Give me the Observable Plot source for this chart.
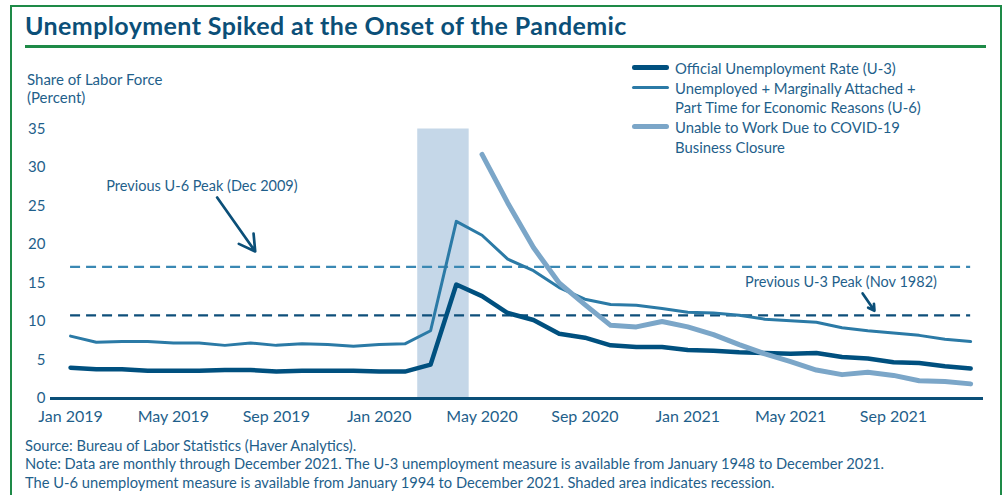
<!DOCTYPE html>
<html><head><meta charset="utf-8">
<script src="https://cdn.jsdelivr.net/npm/d3@7"></script>
<script src="https://cdn.jsdelivr.net/npm/@observablehq/plot@0.6"></script>
<style>
body{margin:0;background:#fff;font-family:Lato,sans-serif;}
#wrap{position:relative;width:1003px;height:495px;overflow:hidden;background:#fff;}
.abs{position:absolute;white-space:nowrap;}
.txt{color:#1f5f8b;}
</style></head><body>
<div id="wrap">
  <div class="abs" style="left:10px;top:5px;width:988px;height:530px;border:2px solid #1e8a47;"></div>
  <div class="abs" id="title" style="left:25px;top:13px;font-size:25px;line-height:25px;letter-spacing:0.4px;font-weight:700;color:#0b4f78;">Unemployment Spiked at the Onset of the Pandemic</div>
  <div class="abs" style="left:25px;top:45px;width:961px;height:3px;background:#1e8a47;"></div>
</div>
<script>
// ---- data ----
const months = d3.utcMonth.range(new Date(Date.UTC(2019, 0, 1)), new Date(Date.UTC(2022, 0, 1)));
const u3 = [4.0, 3.8, 3.8, 3.6, 3.6, 3.6, 3.7, 3.7, 3.5, 3.6, 3.6, 3.6,
            3.5, 3.5, 4.4, 14.8, 13.3, 11.1, 10.2, 8.4, 7.9, 6.9, 6.7, 6.7,
            6.3, 6.2, 6.0, 5.9, 5.8, 5.9, 5.4, 5.2, 4.7, 4.6, 4.2, 3.9];
const u6 = [8.1, 7.3, 7.4, 7.4, 7.2, 7.2, 6.9, 7.2, 6.9, 7.1, 7.0, 6.8,
            7.0, 7.1, 8.8, 23.0, 21.2, 18.1, 16.6, 14.4, 12.9, 12.2, 12.1, 11.7,
            11.2, 11.1, 10.8, 10.3, 10.1, 9.9, 9.2, 8.8, 8.5, 8.2, 7.7, 7.4];
const covidMonths = d3.utcMonth.range(new Date(Date.UTC(2020, 4, 1)), new Date(Date.UTC(2022, 0, 1)));
const covid = [31.7, 25.4, 19.6, 15.0, 12.2, 9.5, 9.3, 10.0,
               9.3, 8.3, 7.0, 5.8, 4.8, 3.7, 3.1, 3.4, 3.0, 2.3, 2.2, 1.9];
const tickMonths = ["Jan 2019", "May 2019", "Sep 2019", "Jan 2020", "May 2020", "Sep 2020", "Jan 2021", "May 2021", "Sep 2021"];
const yTicks = [0, 5, 10, 15, 20, 25, 30, 35];
const peakNames = ["Previous U-6 Peak (Dec 2009)", "Previous U-3 Peak (Nov 1982)"];
const peakValues = [17.1, 10.8];
const recessionStart = "2020-02";
const recessionEnd = "2020-04";
const seriesNames = [["Official Unemployment Rate (U-3)"],
                     ["Unemployed + Marginally Attached +", "Part Time for Economic Reasons (U-6)"],
                     ["Unable to Work Due to COVID-19", "Business Closure"]];

// ---- styles ----
const C3 = "#00507f", C6 = "#2b7aa6", CC = "#7ba6c8", TXT = "#1f5f8b", NAVY = "#0b4f78";

const fmt = d3.utcFormat("%Y-%m");
const idx = m => months.findIndex(d => fmt(d) === m);
const rows = months.map((d, i) => ({i, u3: u3[i], u6: u6[i]}));
const covRows = covidMonths.map((d, j) => ({i: idx(fmt(d)), v: covid[j]}));
const tickIdx = tickMonths.map(s => idx(fmt(d3.utcParse("%b %Y")(s))));
const rec = [{x1: idx(recessionStart) + 0.5, x2: idx(recessionEnd) + 0.5}];
const peaks = peakNames.map((n, k) => ({name: n, value: peakValues[k], color: k === 0 ? "#3a88b3" : "#0e4f7a"}));
// annotation placement (data space)
const notes = [
  {text: peakNames[0], tx: 5.11, ty: 27.5, ax1: 5.70, ay1: 26.1, ax2: 7.18, ay2: 19.1},
  {text: peakNames[1], tx: 29.96, ty: 15.05, ax1: 30.8, ay1: 13.65, ax2: 31.26, ay2: 11.4}
];

const chart = Plot.plot({
  width: 1003, height: 430,
  marginLeft: 50, marginRight: 20, marginTop: 128.5, marginBottom: 32,
  style: {fontFamily: "Lato, sans-serif", background: "transparent", overflow: "visible"},
  x: {type: "linear", domain: [-0.78, 35.5]},
  y: {domain: [0, 35]},
  marks: [
    Plot.rect(rec, {x1: "x1", x2: "x2", y1: 0, y2: 35, fill: "#c5d7e8"}),
    Plot.ruleY(peaks, {y: "value", x1: 0, x2: 35, stroke: "color", strokeWidth: 2.3, strokeDasharray: "10,6"}),
    Plot.ruleY([0], {stroke: NAVY, strokeWidth: 3}),
    Plot.axisY({ticks: yTicks, tickSize: 0, tickPadding: 5, fontSize: 15, color: TXT, label: null}),
    Plot.axisX({ticks: tickIdx, tickFormat: (d, k) => tickMonths[k], tickSize: 0, tickPadding: 12, fontSize: 16, color: TXT, label: null}),
    Plot.line(rows, {x: "i", y: "u6", stroke: C6, strokeWidth: 3, strokeLinejoin: "round", strokeLinecap: "round"}),
    Plot.line(rows, {x: "i", y: "u3", stroke: C3, strokeWidth: 4.5, strokeLinejoin: "round", strokeLinecap: "round"}),
    Plot.line(covRows, {x: "i", y: "v", stroke: CC, strokeWidth: 5, strokeLinejoin: "round", strokeLinecap: "round"}),
    Plot.text(notes, {x: "tx", y: "ty", text: "text", fontSize: 14.5, fill: TXT}),
    Plot.arrow(notes, {x1: "ax1", y1: "ay1", x2: "ax2", y2: "ay2", stroke: NAVY, strokeWidth: 2.7, headLength: 10})
  ]
});
chart.style.position = "absolute";
chart.style.left = "0px";
chart.style.top = "0px";
const wrap = document.getElementById("wrap");
wrap.appendChild(chart);

function addText(str, left, baseline, size, extra) {
  const d = document.createElement("div");
  d.className = "abs txt";
  d.style.left = left + "px";
  d.style.top = (baseline - 0.887 * size) + "px";
  d.style.fontSize = size + "px";
  d.style.lineHeight = size + "px";
  if (extra) Object.assign(d.style, extra);
  d.textContent = str;
  wrap.appendChild(d);
}
// y-axis title
addText("Share of Labor Force", 27, 85, 15);
addText("(Percent)", 27, 103, 15);
// legend
const legendColors = [C3, C6, CC], legendWidths = [4.5, 3, 5];
let bl = 74;
seriesNames.forEach((lines, k) => {
  const s = document.createElement("div");
  s.className = "abs";
  const w = legendWidths[k];
  Object.assign(s.style, {left: "632px", top: (bl - 6.5 - w / 2) + "px", width: "37px", height: w + "px",
    background: legendColors[k], borderRadius: (w / 2) + "px"});
  wrap.appendChild(s);
  lines.forEach(t => { addText(t, 675, bl, 14.85); bl += 19.75; });
});
// footnotes
const notesText = ["Source: Bureau of Labor Statistics (Haver Analytics).",
  "Note: Data are monthly through December 2021. The U-3 unemployment measure is available from January 1948 to December 2021.",
  "The U-6 unemployment measure is available from January 1994 to December 2021. Shaded area indicates recession."];
notesText.forEach((t, k) => addText(t, 25, 451 + k * 18.3, 14.7));
</script>
</body></html>
